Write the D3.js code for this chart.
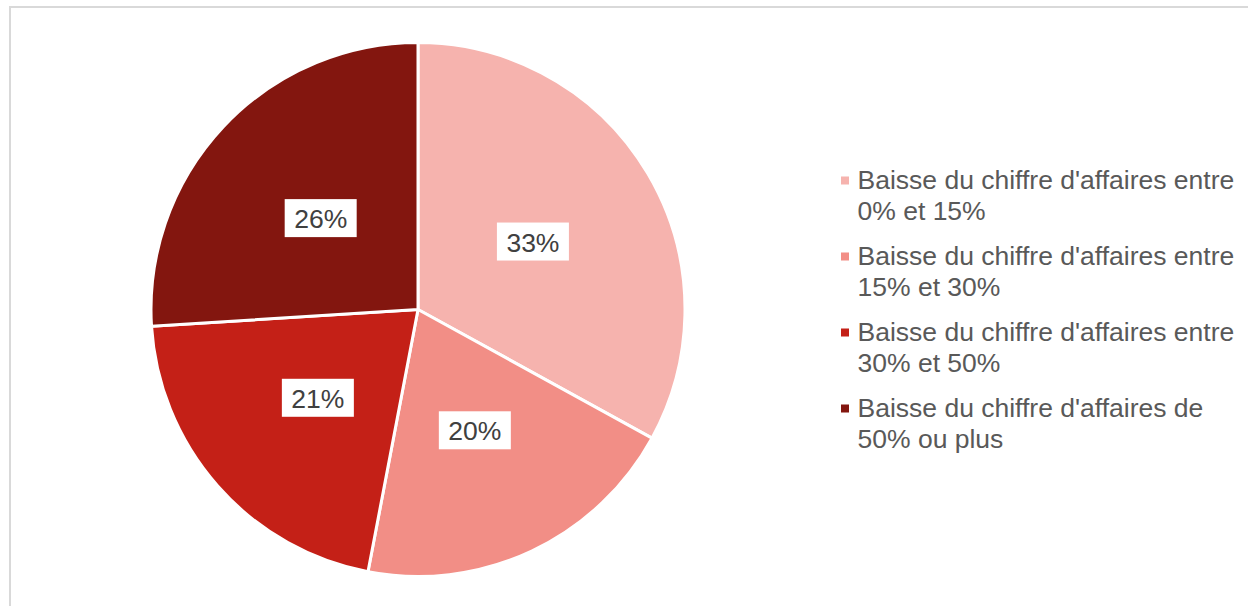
<!DOCTYPE html>
<html><head><meta charset="utf-8">
<script src="https://cdn.jsdelivr.net/npm/d3@7"></script>
<style>html,body{margin:0;padding:0;background:#fff;overflow:hidden}</style>
</head><body>
<svg id="chart" width="1248" height="606"></svg>
<script>
const categories = [
  "Baisse du chiffre d'affaires entre 0% et 15%",
  "Baisse du chiffre d'affaires entre 15% et 30%",
  "Baisse du chiffre d'affaires entre 30% et 50%",
  "Baisse du chiffre d'affaires de 50% ou plus"
];
const legendLines = [
  ["Baisse du chiffre d'affaires entre", "0% et 15%"],
  ["Baisse du chiffre d'affaires entre", "15% et 30%"],
  ["Baisse du chiffre d'affaires entre", "30% et 50%"],
  ["Baisse du chiffre d'affaires de", "50% ou plus"]
];
const values = [33, 20, 21, 26];
const colors = ["#F6B3AE", "#F28E86", "#C42017", "#83160F"];

const svg = d3.select("#chart");
svg.append("rect").attr("x", 10).attr("y", 7).attr("width", 1260).attr("height", 620)
  .attr("fill", "none").attr("stroke", "#d9d9d9").attr("stroke-width", 2);

const cx = 418, cy = 309.5, r = 267;
const g = svg.append("g").attr("transform", `translate(${cx},${cy})`);
const pie = d3.pie().sort(null).value(d => d);
const arcs = pie(values);
const arc = d3.arc().innerRadius(0).outerRadius(r);
const color = d3.scaleOrdinal().domain(d3.range(values.length)).range(colors);

g.selectAll("path.slice").data(arcs).enter().append("path")
  .attr("class", "slice")
  .attr("d", arc)
  .attr("fill", (d, i) => color(i))
  .attr("stroke", "#fff").attr("stroke-width", 3).attr("stroke-linejoin", "round");

const font = "Liberation Sans, Arial, sans-serif";
const lbl = g.selectAll("g.lbl").data(arcs).enter().append("g")
  .attr("class", "lbl")
  .attr("transform", d => `translate(${arc.centroid(d)})`);
lbl.append("rect").attr("x", -36).attr("y", -19).attr("width", 72).attr("height", 38).attr("fill", "#fff");
lbl.append("text").attr("text-anchor", "middle").attr("y", 10)
  .attr("font-family", font).attr("font-size", 26.5)
  .attr("fill", "#404040").text(d => d.value + "%");

const legend = svg.append("g").attr("transform", "translate(841,0)");
const item = legend.selectAll("g.item").data(legendLines).enter().append("g")
  .attr("class", "item")
  .attr("transform", (d, i) => `translate(0,${189 + i * 76})`);
item.append("rect").attr("x", 0).attr("y", -12.5).attr("width", 8).attr("height", 8)
  .attr("fill", (d, i) => color(i));
item.selectAll("text").data(d => d).enter().append("text")
  .attr("x", 16.5).attr("y", (d, j) => j * 30.7)
  .attr("font-family", font).attr("font-size", 26.5)
  .attr("fill", "#595959").text(d => d);
</script>
</body></html>
